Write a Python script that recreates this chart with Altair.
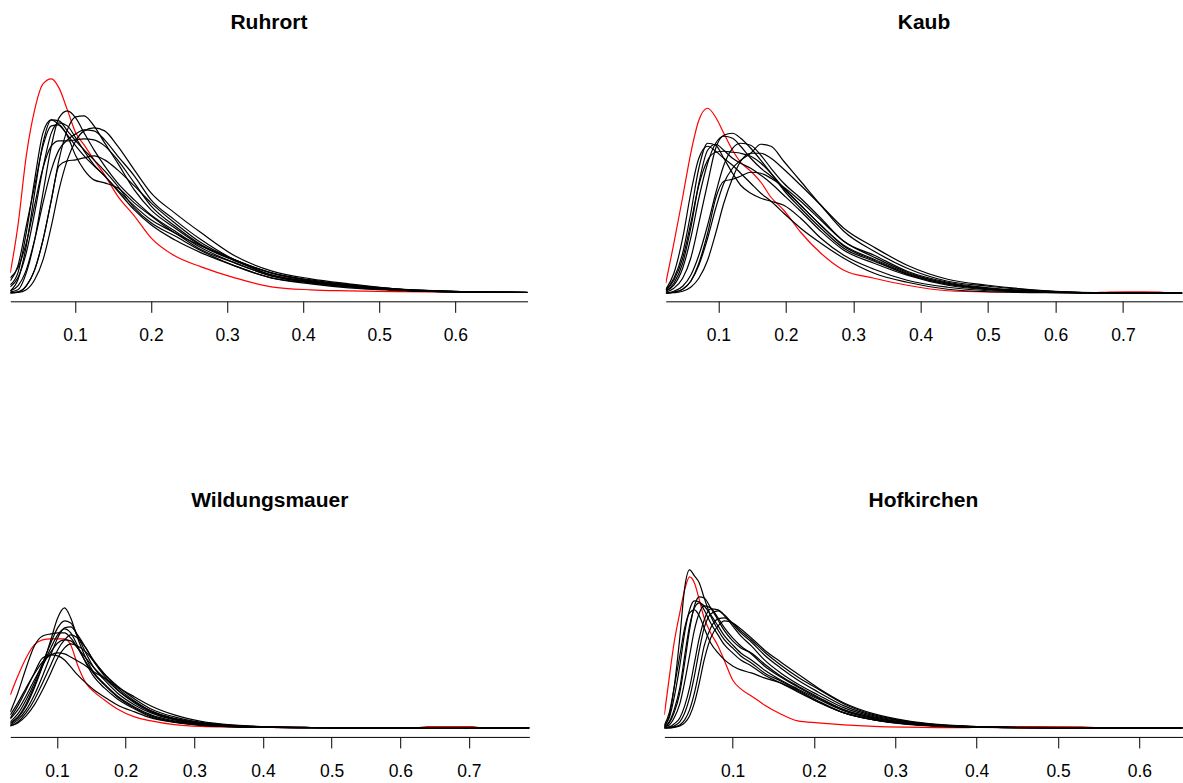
import altair as alt
import pandas as pd

# ---------------- Ruhrort ----------------
RUH_X = [0.015, 0.025, 0.036, 0.047, 0.058, 0.069, 0.079, 0.090, 0.101, 0.112, 0.125, 0.139,
         0.156, 0.178, 0.200, 0.231, 0.266, 0.310, 0.358, 0.410, 0.460, 0.520, 0.600, 0.695]
RUH_RED_X = RUH_X
RUH_RED = [20, 67, 137, 183, 209, 214, 205, 183, 160, 148, 133, 118, 97, 77, 55, 37, 26, 15, 6, 3, 2, 1.2, 0.8, 0.3]
RUH_BLACK = [
    [8, 20, 60, 113, 160, 173, 168, 158, 147, 137, 127, 117, 103, 87, 73, 60, 43, 30, 17, 11, 7, 3, 1, 0.3],
    [2, 13, 47, 100, 150, 173, 172, 162, 152, 143, 133, 122, 107, 85, 70, 57, 42, 27, 15, 10, 6, 3, 1, 0.3],
    [12, 27, 67, 107, 147, 167, 168, 157, 137, 123, 113, 110, 105, 90, 77, 60, 47, 33, 20, 12, 8, 4, 1.5, 0.4],
    [1, 3, 20, 53, 100, 147, 175, 182, 175, 160, 143, 127, 110, 93, 78, 62, 45, 30, 17, 10, 6, 3, 1, 0.3],
    [0, 0.7, 7, 23, 53, 93, 133, 163, 176, 177, 167, 150, 130, 103, 83, 65, 47, 32, 18, 11, 7, 3, 1, 0.3],
    [0, 0.3, 3, 13, 33, 67, 103, 133, 152, 162, 165, 162, 147, 123, 100, 80, 60, 37, 22, 14, 9, 4, 1.5, 0.4],
    [2, 7, 23, 53, 90, 123, 143, 153, 159, 163, 162, 153, 137, 117, 93, 73, 53, 33, 20, 12, 8, 3.5, 1.2, 0.3],
    [15, 25, 50, 88, 125, 147, 152, 152, 153, 154, 153, 147, 133, 110, 87, 67, 48, 33, 18, 11, 7, 3, 1, 0.3],
    [0, 1, 7, 23, 53, 93, 127, 132, 133, 135, 137, 133, 123, 107, 90, 70, 50, 33, 20, 13, 8, 4, 1.3, 0.4],
    [6, 15, 40, 80, 125, 160, 170, 167, 155, 142, 128, 117, 102, 83, 68, 53, 40, 27, 15, 9, 5, 2.5, 1, 0.3],
]
RUH_TICKS = [0.1, 0.2, 0.3, 0.4, 0.5, 0.6]

# ---------------- Kaub ----------------
KAU_X = [0.022, 0.034, 0.047, 0.059, 0.071, 0.084, 0.096, 0.108, 0.121, 0.133, 0.148, 0.163,
         0.178, 0.197, 0.222, 0.252, 0.286, 0.331, 0.380, 0.440, 0.500, 0.600, 0.680, 0.788]
KAU_RED_X = [0.022, 0.034, 0.047, 0.059, 0.071, 0.084, 0.096, 0.108, 0.121, 0.133, 0.148, 0.163,
             0.178, 0.197, 0.222, 0.252, 0.286, 0.331, 0.380, 0.440, 0.500, 0.600, 0.650, 0.680,
             0.720, 0.755, 0.770, 0.788]
KAU_RED = [10, 50, 96, 140, 173, 185, 176, 160, 143, 131, 122, 111, 96, 83, 61, 40, 23, 15, 8, 2.5,
           1.2, 0.8, 0.3, 1.2, 1.4, 1.2, 0.1, 0]
KAU_BLACK = [
    [3, 15, 40, 80, 125, 150, 148, 135, 120, 108, 100, 95, 92, 88, 75, 55, 38, 24, 13, 6, 2.5, 0.7, 0.2, 0],
    [2, 10, 30, 65, 110, 143, 149, 143, 135, 130, 125, 118, 110, 98, 82, 62, 43, 30, 18, 8, 3.5, 1, 0.2, 0],
    [1, 5, 15, 35, 70, 110, 145, 158, 160, 155, 145, 133, 120, 103, 85, 65, 45, 32, 19, 9, 4, 1, 0.2, 0],
    [2, 8, 25, 55, 95, 130, 150, 157, 155, 147, 135, 125, 117, 105, 88, 68, 48, 34, 20, 10, 4.5, 1.2, 0.2, 0],
    [0, 2, 7, 18, 38, 68, 100, 128, 145, 150, 148, 138, 125, 110, 95, 75, 52, 38, 22, 11, 5.5, 1.4, 0.2, 0],
    [0, 1, 4, 12, 28, 55, 85, 110, 125, 133, 140, 149, 147, 132, 112, 88, 62, 42, 25, 12, 7, 1.6, 0.3, 0],
    [3, 13, 35, 70, 108, 133, 141, 142, 141, 140, 137, 130, 120, 105, 88, 68, 47, 33, 19, 9, 4, 1, 0.2, 0],
    [0, 1, 4, 12, 30, 60, 95, 112, 114, 117, 121, 120, 115, 106, 92, 73, 52, 36, 21, 10, 5, 1.3, 0.2, 0],
    [0, 0.5, 2, 6, 15, 33, 60, 90, 115, 132, 140, 140, 135, 124, 108, 88, 65, 46, 28, 14, 8, 2, 0.3, 0],
    [4, 20, 55, 100, 135, 147, 142, 135, 128, 120, 110, 100, 92, 80, 65, 50, 35, 20, 11, 4, 1.5, 0.4, 0.1, 0],
]
KAU_TICKS = [0.1, 0.2, 0.3, 0.4, 0.5, 0.6, 0.7]

# ---------------- Wildungsmauer ----------------
WIL_X = [0.032, 0.043, 0.055, 0.067, 0.079, 0.091, 0.101, 0.111, 0.120, 0.130, 0.142, 0.154,
         0.169, 0.188, 0.213, 0.237, 0.271, 0.310, 0.358, 0.411, 0.470, 0.550, 0.650, 0.788]
WIL_RED_X = [0.032, 0.043, 0.055, 0.067, 0.079, 0.091, 0.101, 0.111, 0.120, 0.130, 0.142, 0.154,
             0.169, 0.188, 0.213, 0.237, 0.271, 0.310, 0.358, 0.411, 0.470, 0.550, 0.620, 0.640,
             0.670, 0.705, 0.720, 0.788]
WIL_RED = [33, 52, 70, 83, 88, 89, 89, 89, 83, 63, 45, 36, 28, 19, 11, 7, 3.3, 1.5, 0.8, 0.4,
           0.2, 0.1, 0.05, 1.2, 1.4, 1.2, 0.05, 0]
WIL_BLACK = [
    [4, 10, 22, 40, 62, 88, 110, 120, 110, 90, 70, 55, 44, 32, 21, 13, 7, 3.5, 1.5, 0.6, 0.3, 0.1, 0, 0],
    [6, 14, 28, 45, 65, 85, 100, 107, 105, 92, 75, 60, 48, 35, 23, 15, 8, 4, 1.8, 0.7, 0.3, 0.1, 0, 0],
    [3, 8, 18, 33, 52, 73, 90, 100, 101, 93, 80, 66, 52, 38, 25, 16, 9, 4.5, 2, 0.8, 0.3, 0.1, 0, 0],
    [16, 35, 60, 82, 92, 94, 95, 95, 90, 80, 66, 54, 43, 31, 20, 12, 6, 3, 1.3, 0.5, 0.2, 0.1, 0, 0],
    [9, 18, 32, 48, 63, 76, 85, 88, 87, 80, 70, 60, 50, 38, 26, 17, 9.5, 5, 2.2, 0.9, 0.4, 0.1, 0, 0],
    [2, 5, 12, 23, 38, 55, 70, 80, 84, 82, 76, 66, 54, 42, 29, 19, 11, 5.5, 2.5, 1, 0.4, 0.1, 0, 0],
    [13, 25, 40, 54, 66, 73, 75, 74, 71, 67, 62, 56, 50, 41, 31, 22, 13, 6.5, 2.8, 1.1, 0.4, 0.1, 0, 0],
    [10, 22, 38, 55, 70, 73, 72, 68, 61, 53, 45, 38, 31, 23, 16, 10, 5.5, 2.5, 1, 0.4, 0.2, 0.1, 0, 0],
    [5, 11, 24, 42, 62, 80, 93, 99, 95, 82, 65, 51, 40, 29, 19, 11, 6, 3, 1.2, 0.5, 0.2, 0.1, 0, 0],
    [2, 6, 15, 28, 45, 63, 78, 88, 93, 90, 80, 67, 54, 40, 27, 17, 9, 4.5, 2, 0.8, 0.3, 0.1, 0, 0],
]
WIL_TICKS = [0.1, 0.2, 0.3, 0.4, 0.5, 0.6, 0.7]

# ---------------- Hofkirchen ----------------
HOF_X = [0.016, 0.022, 0.028, 0.035, 0.041, 0.047, 0.053, 0.059, 0.065, 0.073, 0.082, 0.090,
         0.100, 0.110, 0.123, 0.139, 0.159, 0.180, 0.205, 0.237, 0.274, 0.315, 0.352, 0.400,
         0.450, 0.550, 0.653]
HOF_RED_X = [0.016, 0.022, 0.028, 0.035, 0.041, 0.047, 0.053, 0.059, 0.065, 0.073, 0.082, 0.090,
             0.100, 0.110, 0.123, 0.139, 0.159, 0.180, 0.205, 0.237, 0.274, 0.315, 0.352, 0.390,
             0.410, 0.470, 0.530, 0.550, 0.653]
HOF_RED = [13, 50, 85, 115, 138, 151, 145, 128, 110, 95, 82, 67, 48, 39, 32, 23, 14, 7, 5, 3,
           1.5, 0.7, 0.3, 0.2, 1.1, 1.4, 1.1, 0.1, 0]
HOF_BLACK = [
    [2, 12, 40, 90, 140, 158, 152, 145, 130, 112, 98, 88, 80, 72, 65, 55, 47, 38, 27, 15, 8, 4, 2, 1, 0.3, 0.05, 0],
    [1, 5, 15, 35, 65, 98, 122, 131, 130, 120, 108, 97, 87, 80, 75, 64, 52, 42, 31, 18, 10, 4.5, 2, 0.8, 0.3, 0.05, 0],
    [1, 6, 18, 40, 72, 102, 120, 125, 122, 113, 102, 92, 83, 75, 68, 58, 48, 39, 29, 17, 9, 4, 2, 0.8, 0.3, 0.05, 0],
    [3, 15, 40, 72, 100, 115, 118, 112, 100, 85, 75, 68, 62, 58, 55, 50, 45, 37, 26, 15, 8, 3.5, 1.5, 0.6, 0.2, 0.05, 0],
    [0, 1, 4, 10, 22, 40, 65, 90, 108, 119, 118, 112, 102, 92, 82, 68, 55, 44, 33, 20, 11, 5, 2.5, 1, 0.4, 0.05, 0],
    [0, 0.5, 2, 6, 15, 30, 52, 78, 100, 114, 117, 113, 104, 95, 86, 73, 60, 48, 36, 22, 12, 6, 3, 1.2, 0.4, 0.05, 0],
    [0, 0, 1, 3, 8, 18, 35, 58, 82, 100, 109, 110, 105, 97, 88, 76, 63, 51, 39, 24, 13, 6.5, 3, 1.2, 0.4, 0.05, 0],
    [0, 0, 0.5, 2, 5, 12, 25, 45, 68, 90, 102, 107, 105, 99, 90, 78, 66, 54, 40, 25, 14, 7, 3.5, 1.4, 0.5, 0.05, 0],
    [2, 10, 30, 62, 95, 118, 127, 126, 118, 105, 93, 83, 75, 68, 62, 53, 45, 36, 26, 15, 8, 4, 2, 0.8, 0.3, 0.05, 0],
    [1, 3, 10, 24, 46, 72, 98, 115, 122, 120, 110, 100, 90, 82, 74, 62, 51, 41, 30, 18, 10, 5, 2.5, 1, 0.3, 0.05, 0],
]
HOF_TICKS = [0.1, 0.2, 0.3, 0.4, 0.5, 0.6]

FONT = "Liberation Sans"


def panel(title, xs, black, red_x, red_y, xdom, ticks, ydom, w, h):
    rows = []
    for i, ys in enumerate(black):
        for x, y in zip(xs, ys):
            rows.append({"x": x, "density": y, "curve": "c%02d" % i})
    bdf = pd.DataFrame(rows)
    rdf = pd.DataFrame({"x": red_x, "density": red_y})
    xenc = alt.X("x:Q",
                 scale=alt.Scale(domain=xdom, nice=False, zero=False),
                 axis=alt.Axis(values=ticks, format=".1f", title=None, grid=False))
    yenc = alt.Y("density:Q", scale=alt.Scale(domain=ydom, nice=False, zero=False), axis=None)
    red = alt.Chart(rdf).mark_line(color="#ff0000", strokeWidth=1.2, interpolate="monotone",
                                   clip=True).encode(x=xenc, y=yenc)
    blk = alt.Chart(bdf).mark_line(color="#000000", strokeWidth=1.2, interpolate="monotone",
                                   clip=True).encode(x=xenc, y=yenc, detail="curve:N")
    return alt.layer(red, blk).properties(title=title, width=w, height=h)


TOP_H = 230.8
BOT_H = 188
tl = panel("Ruhrort", RUH_X, RUH_BLACK, RUH_RED_X, RUH_RED, [0.015, 0.695], RUH_TICKS,
           [-8.5, 222.3], 517.4, TOP_H)
tr = panel("Kaub", KAU_X, KAU_BLACK, KAU_RED_X, KAU_RED, [0.0219, 0.788], KAU_TICKS,
           [-8.1, 222.7], 516.7, TOP_H)
bl = panel("Wildungsmauer", WIL_X, WIL_BLACK, WIL_RED_X, WIL_RED, [0.032, 0.788], WIL_TICKS,
           [-9, 179], 519.2, BOT_H)
br = panel("Hofkirchen", HOF_X, HOF_BLACK, HOF_RED_X, HOF_RED, [0.016, 0.653], HOF_TICKS,
           [-9, 179], 518.3, BOT_H)

chart = alt.vconcat(
    alt.hconcat(tl, tr, spacing=136.6),
    alt.hconcat(bl, br, spacing=133.2),
    spacing=143.5,
).properties(
    padding={"left": 9.3, "top": 10.5, "right": 0, "bottom": 0}
).configure_view(
    stroke="transparent"
).configure_axis(
    domainColor="#000000", domainWidth=1, tickColor="#000000", tickWidth=1, tickSize=11,
    labelFont=FONT, labelFontSize=17.5, labelColor="#000000", labelPadding=14.5, grid=False,
).configure_title(
    font=FONT, fontSize=21, fontWeight="bold", color="#000000", anchor="middle",
    baseline="alphabetic", offset=37.6,
)

chart.save("out.html", embed_options={"renderer": "svg", "actions": False})
